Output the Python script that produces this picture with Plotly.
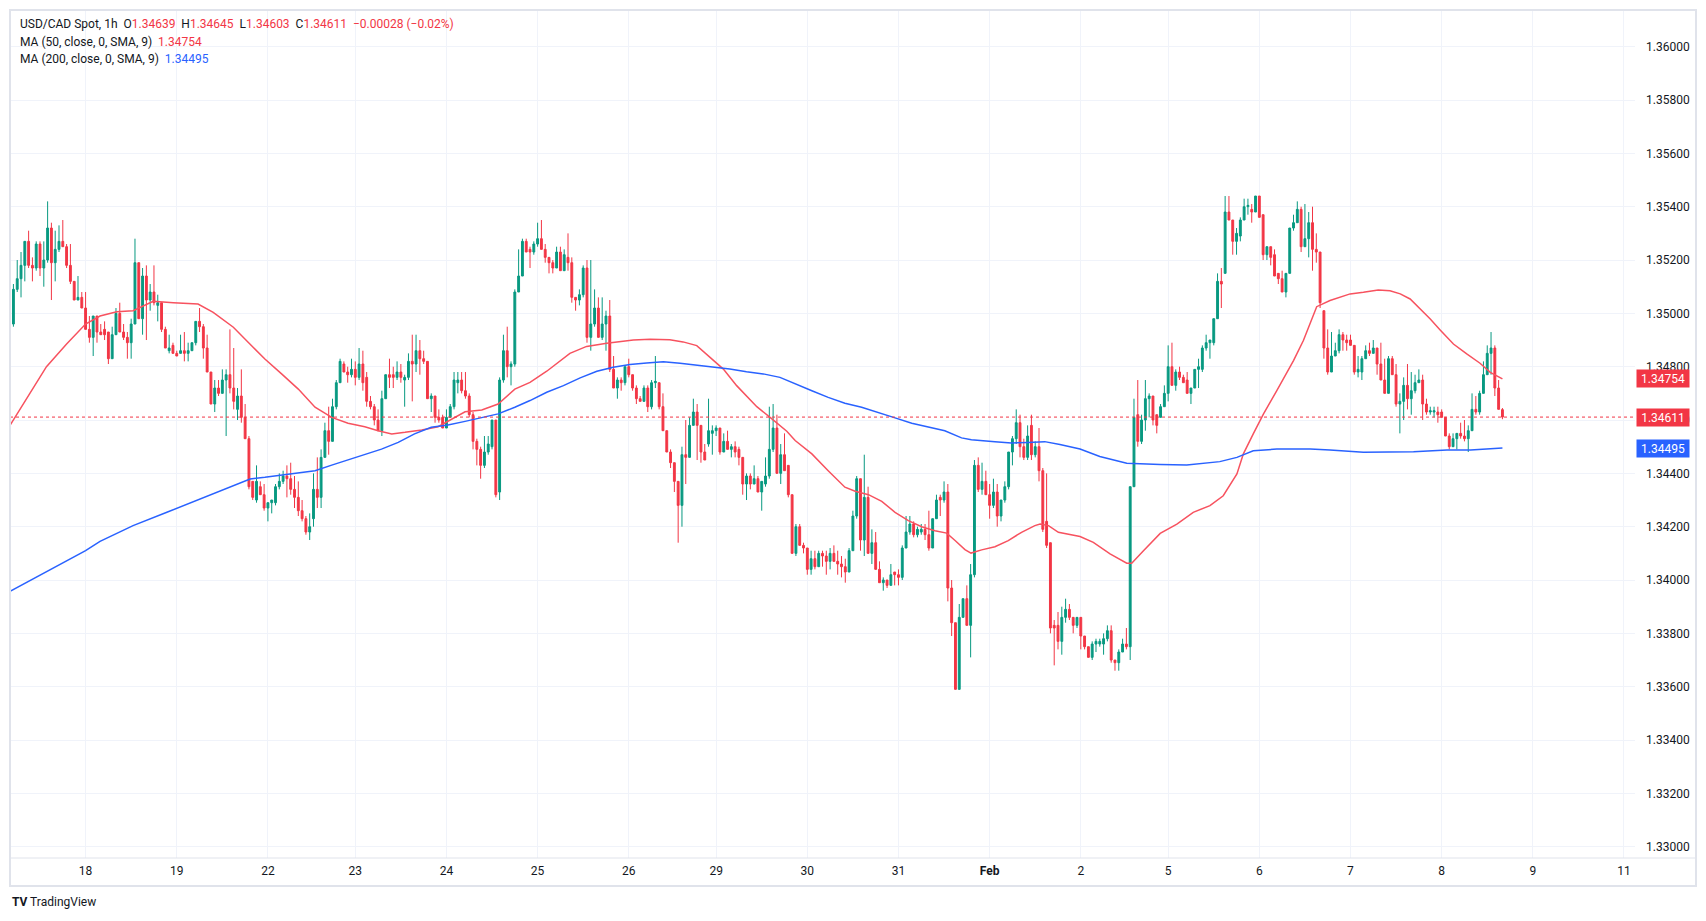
"""USD/CAD 1h candles with 50 / 200 SMA, TradingView-style light theme."""
import plotly.graph_objects as go

# ---- hourly candles: Jan 17 (partial) .. Feb 8 (partial) ----
opens = [
    # Jan 17
    1.3496, 1.3509, 1.3513, 1.3518, 1.3527, 1.3518, 1.3517, 1.3526, 1.3517, 1.3520, 1.3532, 1.3519, 1.3524, 1.3527, 1.3525, 1.3518, 1.3512, 1.3505, 1.3506,
    # Jan 18
    1.3502, 1.3494, 1.3491, 1.3499, 1.3493, 1.3494, 1.3493, 1.3483, 1.3492, 1.3500, 1.3493, 1.3491, 1.3489, 1.3496, 1.3519, 1.3498, 1.3514, 1.3505, 1.3508, 1.3503, 1.3504, 1.3494, 1.3486, 1.3488,
    # Jan 19
    1.3485, 1.3485, 1.3486, 1.3485, 1.3486, 1.3489, 1.3497, 1.3495, 1.3487, 1.3478, 1.3466, 1.3472, 1.3470, 1.3475, 1.3477, 1.3472, 1.3464, 1.3469, 1.3461, 1.3453, 1.3437, 1.3430, 1.3435, 1.3432,
    # Jan 22
    1.3427, 1.3429, 1.3429, 1.3435, 1.3437, 1.3439, 1.3438, 1.3434, 1.3431, 1.3426, 1.3423, 1.3418, 1.3423, 1.3434, 1.3431, 1.3446, 1.3456, 1.3452, 1.3465, 1.3474, 1.3481, 1.3478, 1.3477,
    # Jan 23
    1.3479, 1.3476, 1.3481, 1.3476, 1.3467, 1.3465, 1.3460, 1.3456, 1.3468, 1.3477, 1.3477, 1.3476, 1.3478, 1.3475, 1.3476, 1.3482, 1.3481, 1.3486, 1.3483, 1.3482, 1.3468, 1.3469, 1.3461, 1.3461,
    # Jan 24
    1.3457, 1.3461, 1.3465, 1.3474, 1.3475, 1.3471, 1.3469, 1.3462, 1.3452, 1.3449, 1.3443, 1.3448, 1.3450, 1.3460, 1.3433, 1.3475, 1.3486, 1.3480, 1.3481, 1.3508, 1.3514, 1.3527, 1.3524, 1.3523,
    # Jan 25
    1.3526, 1.3528, 1.3524, 1.3521, 1.3519, 1.3517, 1.3523, 1.3516, 1.3521, 1.3519, 1.3506, 1.3505, 1.3507, 1.3517, 1.3491, 1.3496, 1.3502, 1.3491, 1.3496, 1.3499, 1.3479, 1.3472, 1.3475, 1.3474,
    # Jan 26
    1.3480, 1.3477, 1.3472, 1.3468, 1.3467, 1.3472, 1.3465, 1.3474, 1.3474, 1.3465, 1.3456, 1.3448, 1.3444, 1.3437, 1.3428, 1.3447, 1.3446, 1.3458, 1.3463, 1.3458, 1.3448, 1.3451, 1.3455,
    # Jan 29
    1.3456, 1.3457, 1.3448, 1.3452, 1.3449, 1.3450, 1.3449, 1.3446, 1.3436, 1.3439, 1.3436, 1.3438, 1.3433, 1.3436, 1.3439, 1.3449, 1.3457, 1.3440, 1.3447, 1.3443, 1.3432, 1.3410, 1.3420, 1.3413,
    # Jan 30
    1.3412, 1.3404, 1.3408, 1.3405, 1.3410, 1.3409, 1.3407, 1.3410, 1.3407, 1.3406, 1.3405, 1.3403, 1.3411, 1.3424, 1.3438, 1.3415, 1.3431, 1.3410, 1.3414, 1.3404, 1.3399, 1.3400, 1.3398, 1.3403,
    # Jan 31
    1.3402, 1.3401, 1.3412, 1.3418, 1.3421, 1.3417, 1.3418, 1.3419, 1.3417, 1.3412, 1.3423, 1.3431, 1.3430, 1.3433, 1.3397, 1.3384, 1.3359, 1.3386, 1.3393, 1.3383, 1.3402, 1.3443, 1.3434, 1.3437,
    # Feb 1
    1.3432, 1.3428, 1.3433, 1.3424, 1.3430, 1.3435, 1.3448, 1.3453, 1.3459, 1.3450, 1.3446, 1.3458, 1.3447, 1.3450, 1.3441, 1.3422, 1.3414, 1.3383, 1.3383, 1.3377, 1.3386, 1.3389, 1.3386, 1.3383,
    # Feb 2
    1.3386, 1.3379, 1.3375, 1.3371, 1.3376, 1.3376, 1.3376, 1.3378, 1.3381, 1.3370, 1.3369, 1.3373, 1.3376, 1.3375, 1.3435, 1.3462, 1.3452, 1.3460, 1.3468, 1.3469, 1.3462, 1.3461, 1.3465,
    # Feb 5
    1.3470, 1.3480, 1.3473, 1.3478, 1.3476, 1.3475, 1.3470, 1.3472, 1.3479, 1.3479, 1.3487, 1.3489, 1.3489, 1.3498, 1.3512, 1.3515, 1.3538, 1.3535, 1.3527, 1.3529, 1.3535, 1.3540, 1.3539, 1.3538,
    # Feb 6
    1.3544, 1.3537, 1.3522, 1.3525, 1.3522, 1.3515, 1.3513, 1.3508, 1.3515, 1.3532, 1.3534, 1.3539, 1.3525, 1.3528, 1.3534, 1.3524, 1.3523, 1.3501, 1.3487, 1.3478, 1.3484, 1.3486, 1.3492, 1.3490,
    # Feb 7
    1.3490, 1.3488, 1.3478, 1.3478, 1.3483, 1.3486, 1.3485, 1.3487, 1.3481, 1.3475, 1.3470, 1.3483, 1.3477, 1.3466, 1.3467, 1.3473, 1.3468, 1.3471, 1.3474, 1.3475, 1.3466, 1.3463, 1.3463, 1.3463,
    # Feb 8
    1.3463, 1.3461, 1.3454, 1.3450, 1.3453, 1.3455, 1.3454, 1.3453, 1.3456, 1.3464, 1.3463, 1.3470, 1.3477, 1.3485, 1.3487, 1.3472, 1.34639,
]
highs = [
    1.3511, 1.3520, 1.3523, 1.3527, 1.3531, 1.3521, 1.3527, 1.3527, 1.3527, 1.3542, 1.3534, 1.3531, 1.3533, 1.3535, 1.3526, 1.3526, 1.3512, 1.3514, 1.3508,
    1.3508, 1.3499, 1.3499, 1.3499, 1.3496, 1.3497, 1.3493, 1.3495, 1.3502, 1.3504, 1.3496, 1.3493, 1.3498, 1.3528, 1.3519, 1.3517, 1.3518, 1.3511, 1.3518, 1.3507, 1.3504, 1.3495, 1.3492, 1.3489,
    1.3486, 1.3492, 1.3493, 1.3489, 1.3489, 1.3497, 1.3502, 1.3496, 1.3492, 1.3478, 1.3475, 1.3475, 1.3479, 1.3479, 1.3494, 1.3487, 1.3472, 1.3479, 1.3466, 1.3454, 1.3437, 1.3443, 1.3437, 1.3436,
    1.3429, 1.3430, 1.3436, 1.3440, 1.3441, 1.3443, 1.3444, 1.3439, 1.3437, 1.3430, 1.3424, 1.3425, 1.3440, 1.3446, 1.3449, 1.3459, 1.3465, 1.3468, 1.3475, 1.3483, 1.3482, 1.3480, 1.3483,
    1.3482, 1.3487, 1.3486, 1.3478, 1.3469, 1.3466, 1.3464, 1.3471, 1.3477, 1.3483, 1.3480, 1.3482, 1.3481, 1.3477, 1.3485, 1.3492, 1.3492, 1.3490, 1.3486, 1.3482, 1.3470, 1.3469, 1.3464, 1.3462,
    1.3464, 1.3466, 1.3478, 1.3478, 1.3478, 1.3478, 1.3470, 1.3463, 1.3453, 1.3450, 1.3454, 1.3454, 1.3460, 1.3460, 1.3476, 1.3492, 1.3495, 1.3482, 1.3509, 1.3524, 1.3528, 1.3528, 1.3525, 1.3527,
    1.3534, 1.3535, 1.3526, 1.3521, 1.3520, 1.3525, 1.3525, 1.3524, 1.3530, 1.3521, 1.3506, 1.3509, 1.3518, 1.3520, 1.3520, 1.3509, 1.3506, 1.3506, 1.3501, 1.3505, 1.3484, 1.3476, 1.3476, 1.3480,
    1.3483, 1.3477, 1.3473, 1.3469, 1.3473, 1.3473, 1.3475, 1.3484, 1.3474, 1.3470, 1.3456, 1.3449, 1.3444, 1.3437, 1.3450, 1.3460, 1.3461, 1.3468, 1.3466, 1.3458, 1.3451, 1.3468, 1.3458,
    1.3458, 1.3457, 1.3455, 1.3456, 1.3451, 1.3452, 1.3450, 1.3446, 1.3440, 1.3440, 1.3443, 1.3439, 1.3437, 1.3446, 1.3465, 1.3466, 1.3462, 1.3451, 1.3455, 1.3443, 1.3432, 1.3421, 1.3421, 1.3414,
    1.3412, 1.3411, 1.3411, 1.3411, 1.3411, 1.3411, 1.3412, 1.3413, 1.3411, 1.3409, 1.3408, 1.3412, 1.3426, 1.3439, 1.3438, 1.3447, 1.3435, 1.3419, 1.3418, 1.3407, 1.3401, 1.3400, 1.3406, 1.3403,
    1.3404, 1.3413, 1.3424, 1.3424, 1.3422, 1.3420, 1.3421, 1.3421, 1.3426, 1.3423, 1.3432, 1.3432, 1.3437, 1.3436, 1.3400, 1.3384, 1.3391, 1.3393, 1.3398, 1.3406, 1.3445, 1.3446, 1.3444, 1.3441,
    1.3436, 1.3438, 1.3436, 1.3430, 1.3437, 1.3448, 1.3454, 1.3464, 1.3462, 1.3453, 1.3458, 1.3462, 1.3452, 1.3457, 1.3442, 1.3440, 1.3414, 1.3385, 1.3388, 1.3390, 1.3393, 1.3391, 1.3386, 1.3386,
    1.3386, 1.3379, 1.3375, 1.3377, 1.3378, 1.3378, 1.3380, 1.3383, 1.3383, 1.3370, 1.3374, 1.3378, 1.3382, 1.3435, 1.3468, 1.3475, 1.3462, 1.3475, 1.3470, 1.3469, 1.3462, 1.3466, 1.3473,
    1.3488, 1.3489, 1.3479, 1.3480, 1.3477, 1.3478, 1.3472, 1.3479, 1.3483, 1.3488, 1.3492, 1.3490, 1.3498, 1.3515, 1.3517, 1.3544, 1.3544, 1.3535, 1.3532, 1.3536, 1.3543, 1.3543, 1.3541, 1.3544,
    1.3544, 1.3537, 1.3525, 1.3525, 1.3524, 1.3515, 1.3516, 1.3515, 1.3532, 1.3537, 1.3542, 1.3540, 1.3541, 1.3538, 1.3540, 1.3530, 1.3523, 1.3501, 1.3494, 1.3493, 1.3489, 1.3494, 1.3493, 1.3492,
    1.3492, 1.3488, 1.3484, 1.3484, 1.3488, 1.3489, 1.3490, 1.3487, 1.3489, 1.3483, 1.3484, 1.3484, 1.3481, 1.3470, 1.3476, 1.3481, 1.3478, 1.3477, 1.3479, 1.3477, 1.3468, 1.3465, 1.3465, 1.3465,
    1.3464, 1.3461, 1.3455, 1.3455, 1.3455, 1.3459, 1.3460, 1.3458, 1.3470, 1.3469, 1.3471, 1.3482, 1.3488, 1.3493, 1.3488, 1.3475, 1.34645,
]
lows = [
    1.3495, 1.3508, 1.3506, 1.3512, 1.3517, 1.3512, 1.3516, 1.3514, 1.3510, 1.3519, 1.3505, 1.3512, 1.3523, 1.3525, 1.3517, 1.3511, 1.3505, 1.3505, 1.3502,
    1.3494, 1.3489, 1.3484, 1.3489, 1.3492, 1.3490, 1.3481, 1.3483, 1.3492, 1.3493, 1.3490, 1.3483, 1.3483, 1.3496, 1.3498, 1.3492, 1.3490, 1.3501, 1.3503, 1.3497, 1.3493, 1.3487, 1.3485, 1.3485,
    1.3484, 1.3485, 1.3482, 1.3482, 1.3486, 1.3488, 1.3493, 1.3483, 1.3478, 1.3466, 1.3463, 1.3469, 1.3470, 1.3454, 1.3470, 1.3464, 1.3460, 1.3459, 1.3453, 1.3434, 1.3430, 1.3429, 1.3432, 1.3426,
    1.3422, 1.3425, 1.3428, 1.3434, 1.3436, 1.3431, 1.3432, 1.3427, 1.3424, 1.3422, 1.3417, 1.3415, 1.3420, 1.3427, 1.3427, 1.3446, 1.3447, 1.3452, 1.3464, 1.3474, 1.3478, 1.3474, 1.3476,
    1.3473, 1.3475, 1.3471, 1.3465, 1.3464, 1.3458, 1.3456, 1.3454, 1.3468, 1.3472, 1.3472, 1.3475, 1.3474, 1.3465, 1.3475, 1.3467, 1.3478, 1.3477, 1.3481, 1.3468, 1.3463, 1.3459, 1.3459, 1.3457,
    1.3457, 1.3461, 1.3464, 1.3470, 1.3470, 1.3468, 1.3461, 1.3449, 1.3443, 1.3438, 1.3442, 1.3447, 1.3449, 1.3431, 1.3430, 1.3474, 1.3476, 1.3473, 1.3480, 1.3508, 1.3514, 1.3523, 1.3517, 1.3522,
    1.3525, 1.3524, 1.3519, 1.3515, 1.3515, 1.3517, 1.3516, 1.3516, 1.3516, 1.3504, 1.3501, 1.3503, 1.3506, 1.3489, 1.3486, 1.3495, 1.3491, 1.3490, 1.3486, 1.3478, 1.3472, 1.3468, 1.3471, 1.3473,
    1.3476, 1.3471, 1.3466, 1.3467, 1.3467, 1.3463, 1.3464, 1.3472, 1.3464, 1.3456, 1.3448, 1.3442, 1.3433, 1.3414, 1.3420, 1.3436, 1.3446, 1.3458, 1.3445, 1.3444, 1.3445, 1.3450, 1.3447,
    1.3454, 1.3447, 1.3448, 1.3449, 1.3446, 1.3446, 1.3443, 1.3432, 1.3430, 1.3434, 1.3436, 1.3433, 1.3426, 1.3435, 1.3438, 1.3448, 1.3440, 1.3436, 1.3441, 1.3431, 1.3410, 1.3409, 1.3413, 1.3410,
    1.3402, 1.3402, 1.3404, 1.3405, 1.3405, 1.3402, 1.3404, 1.3407, 1.3402, 1.3401, 1.3399, 1.3403, 1.3411, 1.3423, 1.3411, 1.3409, 1.3410, 1.3406, 1.3404, 1.3399, 1.3396, 1.3397, 1.3398, 1.3398,
    1.3398, 1.3400, 1.3412, 1.3417, 1.3416, 1.3416, 1.3417, 1.3415, 1.3411, 1.3412, 1.3423, 1.3424, 1.3429, 1.3392, 1.3379, 1.3359, 1.3359, 1.3386, 1.3383, 1.3371, 1.3401, 1.3433, 1.3432, 1.3432,
    1.3423, 1.3427, 1.3420, 1.3422, 1.3429, 1.3434, 1.3443, 1.3451, 1.3446, 1.3445, 1.3445, 1.3445, 1.3446, 1.3437, 1.3418, 1.3412, 1.3380, 1.3368, 1.3374, 1.3372, 1.3384, 1.3385, 1.3380, 1.3382,
    1.3374, 1.3374, 1.3371, 1.3370, 1.3373, 1.3375, 1.3372, 1.3377, 1.3369, 1.3366, 1.3366, 1.3373, 1.3374, 1.3370, 1.3435, 1.3450, 1.3451, 1.3456, 1.3461, 1.3458, 1.3455, 1.3461, 1.3465,
    1.3467, 1.3473, 1.3471, 1.3475, 1.3474, 1.3470, 1.3466, 1.3472, 1.3472, 1.3478, 1.3486, 1.3483, 1.3488, 1.3498, 1.3502, 1.3515, 1.3535, 1.3522, 1.3522, 1.3527, 1.3535, 1.3537, 1.3534, 1.3538,
    1.3536, 1.3520, 1.3520, 1.3518, 1.3514, 1.3511, 1.3508, 1.3506, 1.3515, 1.3531, 1.3534, 1.3523, 1.3525, 1.3521, 1.3516, 1.3519, 1.3502, 1.3483, 1.3477, 1.3478, 1.3484, 1.3485, 1.3486, 1.3486,
    1.3488, 1.3477, 1.3476, 1.3475, 1.3483, 1.3484, 1.3485, 1.3477, 1.3475, 1.3470, 1.3470, 1.3477, 1.3465, 1.3455, 1.3460, 1.3464, 1.3462, 1.3470, 1.3474, 1.3460, 1.3462, 1.3462, 1.3461, 1.3459,
    1.3461, 1.3454, 1.3449, 1.3450, 1.3449, 1.3453, 1.3452, 1.3448, 1.3456, 1.3462, 1.3462, 1.3470, 1.3477, 1.3477, 1.3469, 1.3464, 1.34603,
]
closes = [
    1.3509, 1.3513, 1.3518, 1.3527, 1.3518, 1.3517, 1.3526, 1.3517, 1.3520, 1.3532, 1.3519, 1.3524, 1.3527, 1.3525, 1.3518, 1.3512, 1.3505, 1.3506, 1.3502,
    1.3494, 1.3491, 1.3499, 1.3493, 1.3492, 1.3492, 1.3483, 1.3492, 1.3500, 1.3493, 1.3491, 1.3489, 1.3496, 1.3519, 1.3498, 1.3514, 1.3505, 1.3508, 1.3504, 1.3504, 1.3494, 1.3487, 1.3487, 1.3485,
    1.3484, 1.3486, 1.3485, 1.3486, 1.3489, 1.3497, 1.3495, 1.3487, 1.3478, 1.3466, 1.3472, 1.3470, 1.3475, 1.3477, 1.3472, 1.3467, 1.3469, 1.3461, 1.3453, 1.3435, 1.3431, 1.3437, 1.3432, 1.3427,
    1.3429, 1.3430, 1.3435, 1.3437, 1.3439, 1.3438, 1.3434, 1.3431, 1.3426, 1.3423, 1.3418, 1.3420, 1.3434, 1.3431, 1.3446, 1.3456, 1.3452, 1.3465, 1.3474, 1.3482, 1.3478, 1.3477, 1.3479,
    1.3476, 1.3481, 1.3474, 1.3467, 1.3465, 1.3460, 1.3456, 1.3468, 1.3477, 1.3476, 1.3476, 1.3478, 1.3476, 1.3476, 1.3482, 1.3481, 1.3486, 1.3483, 1.3482, 1.3468, 1.3469, 1.3461, 1.3460, 1.3457,
    1.3461, 1.3465, 1.3475, 1.3475, 1.3471, 1.3469, 1.3462, 1.3452, 1.3449, 1.3443, 1.3448, 1.3451, 1.3460, 1.3432, 1.3475, 1.3486, 1.3480, 1.3481, 1.3508, 1.3514, 1.3527, 1.3523, 1.3523, 1.3526,
    1.3528, 1.3524, 1.3521, 1.3519, 1.3517, 1.3523, 1.3516, 1.3522, 1.3519, 1.3506, 1.3505, 1.3507, 1.3517, 1.3491, 1.3496, 1.3502, 1.3491, 1.3496, 1.3499, 1.3479, 1.3472, 1.3475, 1.3474, 1.3480,
    1.3477, 1.3472, 1.3468, 1.3467, 1.3472, 1.3465, 1.3474, 1.34745, 1.3465, 1.3456, 1.3448, 1.3444, 1.3437, 1.3428, 1.3447, 1.3446, 1.3458, 1.3463, 1.3458, 1.3448, 1.3445, 1.3456, 1.3456,
    1.3457, 1.3448, 1.3452, 1.3449, 1.3450, 1.3448, 1.3446, 1.3436, 1.3439, 1.3436, 1.3438, 1.3433, 1.3437, 1.3439, 1.3449, 1.3457, 1.3440, 1.3447, 1.3441, 1.3432, 1.3410, 1.3420, 1.3413, 1.3412,
    1.3404, 1.3408, 1.3405, 1.3410, 1.3409, 1.3407, 1.3410, 1.3407, 1.3406, 1.3405, 1.3403, 1.3411, 1.3424, 1.3438, 1.3415, 1.3431, 1.3410, 1.3414, 1.3404, 1.3399, 1.3400, 1.3398, 1.3402, 1.3402,
    1.3401, 1.3412, 1.3418, 1.3421, 1.3417, 1.3419, 1.3419, 1.3417, 1.3412, 1.3423, 1.3430, 1.3430, 1.3433, 1.3397, 1.3384, 1.3359, 1.3386, 1.3393, 1.3383, 1.3402, 1.3443, 1.3434, 1.3437, 1.3432,
    1.3428, 1.3433, 1.3424, 1.3430, 1.3435, 1.3448, 1.3453, 1.3459, 1.3450, 1.3446, 1.3454, 1.3447, 1.3450, 1.3441, 1.3419, 1.3413, 1.3382, 1.3382, 1.3377, 1.3386, 1.3389, 1.3386, 1.3383, 1.3386,
    1.3379, 1.3375, 1.3371, 1.3376, 1.3377, 1.3377, 1.3378, 1.3381, 1.3370, 1.3369, 1.3373, 1.3376, 1.3375, 1.3435, 1.3461, 1.3452, 1.3460, 1.3468, 1.3469, 1.3460, 1.3458, 1.3465, 1.3470,
    1.3480, 1.3473, 1.3478, 1.3476, 1.3474, 1.3470, 1.3472, 1.3479, 1.3480, 1.3487, 1.3489, 1.3490, 1.3498, 1.3512, 1.3511, 1.3538, 1.3535, 1.3527, 1.3530, 1.3535, 1.3540, 1.35405, 1.3538, 1.3544,
    1.3536, 1.3522, 1.3525, 1.3521, 1.3514, 1.3513, 1.3508, 1.3515, 1.3532, 1.3534, 1.3539, 1.3525, 1.3528, 1.3534, 1.3524, 1.3523, 1.3504, 1.3487, 1.3478, 1.3484, 1.3486, 1.3492, 1.3490, 1.3489,
    1.3488, 1.3478, 1.3479, 1.3483, 1.3486, 1.3485, 1.3487, 1.3481, 1.3475, 1.3470, 1.3483, 1.3477, 1.3466, 1.3467, 1.3473, 1.3468, 1.3471, 1.3474, 1.3475, 1.3466, 1.3463, 1.34635, 1.34635, 1.3462,
    1.3461, 1.3454, 1.3450, 1.3453, 1.3455, 1.3454, 1.3453, 1.3456, 1.3464, 1.3463, 1.3470, 1.3477, 1.3485, 1.3487, 1.3472, 1.3464, 1.34611,
]

FIRST_BAR = -19  # bar 0 = Jan 18 00:00

# day separators on the time scale (bar numbers) and their labels
day_ticks = [0, 24, 48, 71, 95, 119, 143, 166, 190, 214, 238, 262, 285, 309, 333, 357, 381, 405]
day_labels = ["18", "19", "22", "23", "24", "25", "26", "29", "30", "31", "<b>Feb</b>",
              "2", "5", "6", "7", "8", "9", "11"]

# moving averages (bar position, value)
ma50_x = [-19.9, -15.5, -10.3, -5, 0, 3.8, 8.2, 12.5, 17.8, 23.1, 29.6, 33.6, 38.9, 44.1, 47.2, 51.6, 56, 60.4,
          64.8, 69.1, 73.5, 77, 80.6, 84.1, 88.5, 92.8, 96.4, 99.9, 104.3, 108.6, 113, 117, 121.4, 127.5,
          131.9, 137.2, 144.2, 148.6, 153.8, 157.3, 160.9, 164.4, 167.9, 171.4, 176.7, 180.2, 184.6, 186.8,
          191.2, 195.5, 199.9, 202.6, 206.1, 209.6, 213.1, 216.6, 220.1, 223.6, 226.7, 228.9, 231.5, 233.1,
          235.9, 239.4, 242.9, 246.4, 249.9, 251.3, 253.5, 256.1, 261.8, 265.3, 269.7, 274.1, 275.4, 278.5,
          282.9, 287.3, 291.6, 296, 299.5, 303.1, 304.8, 307.4, 310.1, 313.6, 318, 320.6, 324.1, 327.6,
          332.9, 336.4, 340.3, 343.4, 346.1, 348.7, 351.4, 354, 356.6, 360.1, 363.6, 367.1, 369.8, 373]
ma50_y = [1.3458, 1.3468, 1.3480, 1.34885, 1.3496, 1.3499, 1.35006, 1.3501, 1.35045, 1.3504, 1.35035, 1.35004,
          1.34948, 1.34873, 1.34829, 1.34773, 1.34716, 1.34648, 1.3461, 1.34588, 1.34575, 1.3456, 1.34548,
          1.34554, 1.34563, 1.34575, 1.34604, 1.34631, 1.34638, 1.3466, 1.34716, 1.34741, 1.34783, 1.3485,
          1.34876, 1.34888, 1.349, 1.34903, 1.34901, 1.34893, 1.34879, 1.34835, 1.34791, 1.34729, 1.3465,
          1.3461, 1.34558, 1.34523, 1.34473, 1.3441, 1.34348, 1.34333, 1.3432, 1.34295, 1.34254, 1.34223,
          1.342, 1.34185, 1.34176, 1.34148, 1.34114, 1.34101, 1.34113, 1.34125, 1.34148, 1.34179, 1.34204,
          1.3421, 1.34204, 1.34179, 1.34163, 1.34141, 1.34098, 1.34063, 1.34063, 1.3411, 1.34175, 1.3421,
          1.34254, 1.34279, 1.34316, 1.34398, 1.34473, 1.34548, 1.34623, 1.3471, 1.34823, 1.34898, 1.35025,
          1.35048, 1.35073, 1.35079, 1.35088, 1.35085, 1.35073, 1.35054, 1.35016, 1.34979, 1.34938, 1.34885,
          1.34848, 1.34813, 1.34779, 1.34754]

ma200_x = [-19.9, -11, -5, 0, 3.8, 12.5, 21.4, 30.1, 38.9, 43.3, 47.2, 56, 60.4, 64.8, 69.1, 73.5, 77.9, 82.3,
           86.6, 91, 95.4, 99.9, 104.3, 108.6, 113, 117, 121.4, 125.8, 130.2, 134.6, 138.9, 143.3, 147.7,
           152.1, 156.5, 160.9, 165.3, 169.6, 174, 178.4, 182.8, 186.8, 191.2, 195.5, 199.9, 204.3, 208.7,
           213.1, 217.5, 221.8, 226.2, 230.6, 233.2, 239.4, 243.7, 248.1, 252.5, 256.5, 261.8, 267, 274.1,
           282.9, 289.9, 298.6, 303.1, 307.4, 313.6, 322.4, 327.6, 336.4, 349.6, 358.4, 364.6, 373]
ma200_y = [1.33958, 1.34026, 1.34073, 1.3411, 1.34145, 1.34204, 1.34254, 1.34304, 1.34354, 1.34379, 1.34385,
           1.344, 1.3441, 1.34431, 1.34451, 1.34473, 1.34491, 1.34516, 1.34548, 1.34573, 1.34581, 1.34595,
           1.34608, 1.34623, 1.34648, 1.34673, 1.34704, 1.34729, 1.34758, 1.34783, 1.34798, 1.34808, 1.34814,
           1.34819, 1.34813, 1.34806, 1.348, 1.34791, 1.34781, 1.34773, 1.3476, 1.34735, 1.3471, 1.34685,
           1.34663, 1.34648, 1.34629, 1.34608, 1.34588, 1.34573, 1.3456, 1.34533, 1.34526, 1.34519, 1.34514,
           1.34516, 1.34519, 1.34508, 1.34491, 1.34463, 1.34438, 1.34433, 1.34431, 1.34444, 1.3446, 1.34485,
           1.34491, 1.34491, 1.34488, 1.34479, 1.34481, 1.34488, 1.34488, 1.34495]

price_ticks = [1.330, 1.332, 1.334, 1.336, 1.338, 1.340, 1.342, 1.344, 1.346, 1.348,
               1.350, 1.352, 1.354, 1.356, 1.358, 1.360]

LAST_CLOSE = 1.34611
MA50_LAST = 1.34754
MA200_LAST = 1.34495

# ---- look ----
UP, DOWN = "#089981", "#F23645"
MA50_COLOR, MA200_COLOR = "#F7525F", "#2962FF"
TEXT, GRID, FRAME = "#131722", "#F0F3FA", "#E0E3EB"
FONT = "Roboto, 'Open Sans', sans-serif"

# the page body adds 8px around the figure, so the figure is drawn 16px smaller
W, H = 1690, 905
PLOT_L, PLOT_R, PLOT_T, PLOT_B = 2, 1627, 2, 850


def paper_x(px):
    return (px - PLOT_L) / (PLOT_R - PLOT_L)


def paper_y(py):
    return (PLOT_B - py) / (PLOT_B - PLOT_T)


bars = list(range(FIRST_BAR, FIRST_BAR + len(closes)))

fig = go.Figure()
fig.add_trace(go.Candlestick(
    x=bars, open=opens, high=highs, low=lows, close=closes,
    increasing=dict(line=dict(color=UP, width=1), fillcolor=UP),
    decreasing=dict(line=dict(color=DOWN, width=1), fillcolor=DOWN),
    whiskerwidth=0, hoverinfo="skip", showlegend=False,
))
fig.add_trace(go.Scatter(x=ma50_x, y=ma50_y, mode="lines", line=dict(color=MA50_COLOR, width=1.5),
                         hoverinfo="skip", showlegend=False))
fig.add_trace(go.Scatter(x=ma200_x, y=ma200_y, mode="lines", line=dict(color=MA200_COLOR, width=1.5),
                         hoverinfo="skip", showlegend=False))

# last price dotted line
fig.add_shape(type="line", xref="paper", yref="y", x0=0, x1=1, y0=LAST_CLOSE, y1=LAST_CLOSE,
              line=dict(color=DOWN, width=1, dash="dot"))
# frame around chart + time scale separator
fig.add_shape(type="rect", xref="paper", yref="paper", x0=0, x1=paper_x(1688), y0=paper_y(878), y1=1,
              line=dict(color=FRAME, width=2), layer="above")
fig.add_shape(type="line", xref="paper", yref="paper", x0=0, x1=paper_x(1688), y0=0, y1=0,
              line=dict(color=FRAME, width=1), layer="above")

# price scale badges
for value, color in [(MA50_LAST, DOWN), (LAST_CLOSE, DOWN), (MA200_LAST, MA200_COLOR)]:
    fig.add_annotation(x=paper_x(1628), xref="paper", y=value, yref="y", xanchor="left", yanchor="middle",
                       text=f"{value:.5f}", showarrow=False, bgcolor=color, width=48, height=13,
                       borderpad=2, font=dict(family=FONT, size=12, color="white"))

# legend block, top left
red = lambda s: f"<span style='color:{DOWN}'>{s}</span>"
blue = lambda s: f"<span style='color:{MA200_COLOR}'>{s}</span>"
sp = "\u00a0\u00a0"
header = [
    f"USD/CAD Spot, 1h{sp}O{red('1.34639')}{sp}H{red('1.34645')}{sp}L{red('1.34603')}{sp}C{red('1.34611')}"
    f"{sp}{red('−0.00028 (−0.02%)')}",
    f"MA (50, close, 0, SMA, 9){sp}{red(f'{MA50_LAST:.5f}')}",
    f"MA (200, close, 0, SMA, 9){sp}{blue(f'{MA200_LAST:.5f}')}",
]
for text, py in zip(header, [16, 33.5, 51]):
    fig.add_annotation(x=paper_x(10), y=paper_y(py), xref="paper", yref="paper", xanchor="left",
                       yanchor="middle", text=text, showarrow=False,
                       font=dict(family=FONT, size=12, color=TEXT))

# TradingView wordmark under the frame
fig.add_annotation(x=paper_x(2), y=paper_y(894), xref="paper", yref="paper", xanchor="left",
                   yanchor="middle", showarrow=False,
                   text="<b>TV</b> TradingView", font=dict(family=FONT, size=12, color=TEXT))

fig.update_layout(
    width=W, height=H,
    margin=dict(l=PLOT_L, r=W - PLOT_R, t=PLOT_T, b=H - PLOT_B),
    paper_bgcolor="white", plot_bgcolor="white",
    font=dict(family=FONT, size=12, color=TEXT),
    showlegend=False,
    xaxis=dict(range=[-19.9, 407.9], tickvals=day_ticks, ticktext=day_labels, showgrid=True,
               gridcolor=GRID, gridwidth=1, zeroline=False, showline=False, ticks="",
               ticklabelstandoff=4, rangeslider=dict(visible=False), fixedrange=True),
    yaxis=dict(side="right", range=[1.329576, 1.361376], tickvals=price_ticks,
               ticktext=[f"{v:.5f}" for v in price_ticks], showgrid=True, gridcolor=GRID, gridwidth=1,
               zeroline=False, showline=False, ticks="", ticklabelstandoff=10, fixedrange=True),
)

fig.write_html("out.html")
